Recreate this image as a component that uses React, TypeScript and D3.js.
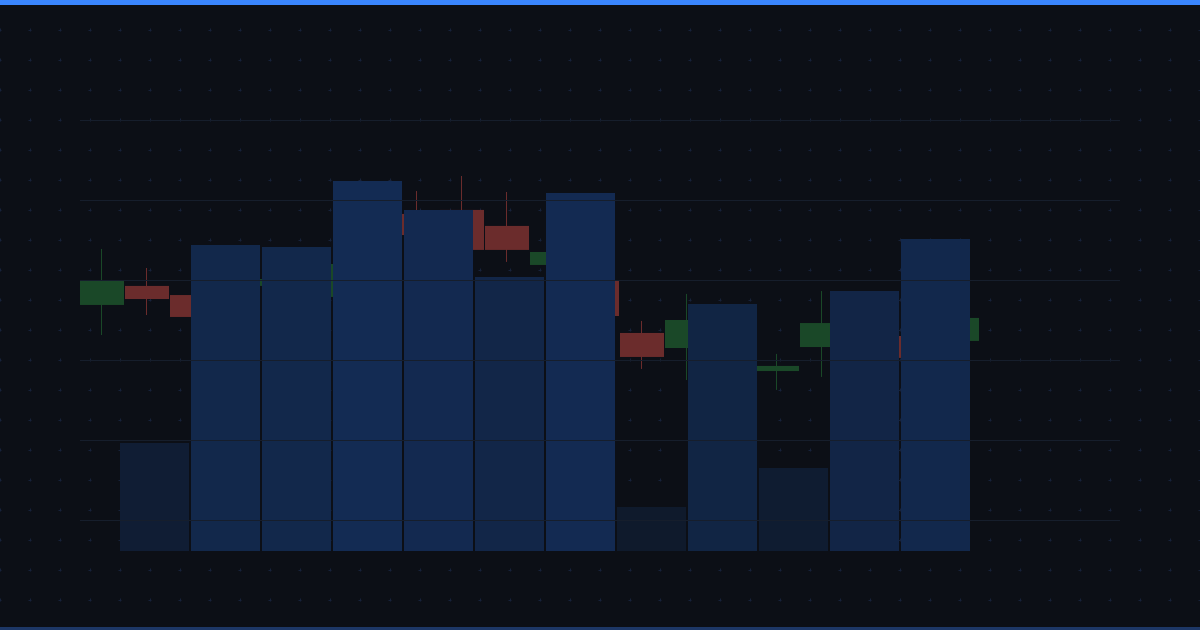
import React from 'react';
import * as d3 from 'd3';

// candles: open / high / low / close
const opens  = [113.44,114.63,114.06,112.69,114.63,113.94,116.13,119.13,119.38,118.38,115.94,114.94,111.69,110.75,110.5,109.31,110.81,112.19,111.5,111.19];
const highs  = [116.94,115.75,114.38,114.2,115.6,116.5,119.3,120.56,121.5,120.5,117.2,115.4,112.44,114.13,111.6,110.38,114.31,112.6,111.9,113.0];
const lows   = [111.56,112.81,112.38,112.3,114.2,113.5,115.8,117.3,116.3,116.13,115.5,112.3,109.44,108.75,110.0,108.13,108.94,110.9,109.8,110.8];
const closes = [114.94,113.81,112.69,113.75,115.06,116.0,118.75,117.81,116.88,116.88,116.75,112.75,110.19,112.5,111.1,109.63,112.31,111.25,110.13,112.63];

// volume bars
const volumes = [1080,3060,3040,3700,3410,2740,3580,440,2470,830,2600,3120];

const W = 1200, H = 630;
const BG = '#0c0f16';
const UP = '#1a4828';
const DOWN = '#6b2c2c';

export default function App() {
  const x = d3.scaleBand<number>().domain(d3.range(opens.length)).range([80, 979]).paddingInner(1 / 45);
  const y = d3.scaleLinear().domain([100, 125]).range([520, 120]);
  const xv = d3.scaleBand<number>().domain(d3.range(volumes.length)).range([120, 970]).paddingInner(2 / 71);
  const yv = d3.scaleLinear().domain([0, 4000]).range([551, 151]);
  const vColor = d3.scaleLinear<string>()
    .domain([d3.min(volumes)!, d3.max(volumes)!])
    .range(['#0f1a2c', '#132b53']);

  const dotsX = d3.range(0, W + 1, 30);
  const dotsY = d3.range(30, H, 30);

  return (
    <div style={{ position: 'fixed', left: 0, top: 0 }}>
      <svg width={W} height={H} style={{ display: 'block' }}>
        <rect width={W} height={H} fill={BG} />
        {/* dotted background */}
        <g stroke="#17223a" strokeWidth={1}>
          {dotsY.map(dy => dotsX.map(dx => (
            <g key={`${dx}-${dy}`}>
              <line x1={dx - 1.5} x2={dx + 1.5} y1={dy + 0.5} y2={dy + 0.5} />
              <line x1={dx + 0.5} x2={dx + 0.5} y1={dy - 1.5} y2={dy + 1.5} />
            </g>
          )))}
        </g>
        {/* candles */}
        {opens.map((o, i) => {
          const c = closes[i];
          const col = c >= o ? UP : DOWN;
          const cx = Math.round(x(i)! + x.bandwidth() / 2) - 0.5;
          return (
            <g key={i}>
              <line x1={cx} x2={cx} y1={y(highs[i])} y2={y(lows[i])} stroke={col} strokeWidth={1} />
              <rect x={x(i)} width={x.bandwidth()} y={y(Math.max(o, c))}
                height={Math.max(1, Math.abs(y(o) - y(c)))} fill={col} />
            </g>
          );
        })}
        {/* volume */}
        {volumes.map((v, i) => (
          <rect key={i} x={Math.round(xv(i)!)} width={Math.round(xv.bandwidth())} y={yv(v)}
            height={yv(0) - yv(v)} fill={vColor(v)} />
        ))}
        {/* grid */}
        {y.ticks(5).map(t => (
          <line key={t} x1={80} x2={1120} y1={y(t) + 0.5} y2={y(t) + 0.5} stroke="#161e2c" strokeWidth={1.2} />
        ))}
        <rect x={0} y={0} width={W} height={5} fill="#3a86ff" />
        <rect x={0} y={627} width={W} height={3} fill="#1d3766" />
      </svg>
    </div>
  );
}
